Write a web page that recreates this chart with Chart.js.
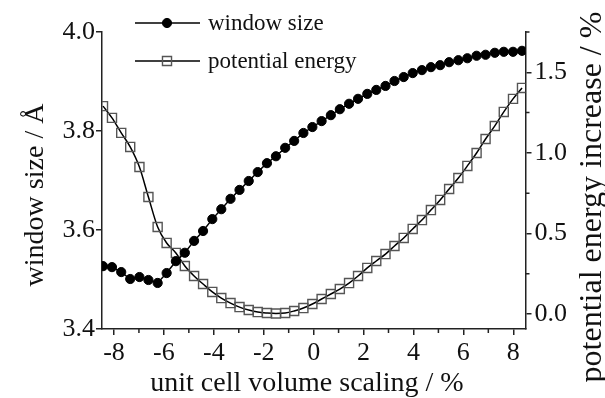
<!DOCTYPE html>
<html>
<head>
<meta charset="utf-8">
<script src="https://cdn.jsdelivr.net/npm/chart.js@4.4.0/dist/chart.umd.min.js"></script>
<style>
  html, body { margin: 0; padding: 0; background: #fff; }
</style>
</head>
<body>
<canvas id="chart" width="605" height="398"></canvas>
<script>
// unit cell volume scaling / %
var volumeScaling = [-8.44, -8.08, -7.71, -7.35, -6.98, -6.62, -6.25, -5.89, -5.52, -5.16,
  -4.79, -4.43, -4.06, -3.70, -3.33, -2.97, -2.60, -2.24, -1.87, -1.51,
  -1.14, -0.78, -0.41, -0.05, 0.32, 0.69, 1.05, 1.42, 1.78, 2.15,
  2.51, 2.88, 3.24, 3.61, 3.97, 4.34, 4.70, 5.07, 5.43, 5.80,
  6.16, 6.53, 6.89, 7.26, 7.62, 7.99, 8.35];

// window size / Å (left axis)
var windowSize = [3.527, 3.525, 3.515, 3.501, 3.505, 3.499, 3.493, 3.513, 3.537, 3.554,
  3.578, 3.598, 3.622, 3.642, 3.663, 3.681, 3.699, 3.717, 3.735, 3.749,
  3.766, 3.780, 3.796, 3.808, 3.820, 3.832, 3.844, 3.855, 3.865, 3.875,
  3.883, 3.891, 3.901, 3.909, 3.917, 3.923, 3.929, 3.933, 3.939, 3.943,
  3.947, 3.952, 3.954, 3.958, 3.960, 3.960, 3.962];

// potential energy increase / % (right axis)
var potentialEnergy = [1.29, 1.217, 1.124, 1.037, 0.912, 0.726, 0.54, 0.441, 0.379, 0.298,
  0.236, 0.186, 0.137, 0.099, 0.068, 0.043, 0.025, 0.012, 0.006, 0.003,
  0.006, 0.019, 0.037, 0.062, 0.093, 0.124, 0.155, 0.192, 0.236, 0.286,
  0.329, 0.372, 0.422, 0.472, 0.528, 0.583, 0.645, 0.708, 0.776, 0.844,
  0.919, 0.999, 1.086, 1.167, 1.254, 1.335, 1.403];

var xMinorTicks = [-7, -5, -3, -1, 1, 3, 5, 7];
var energyMinorTicks = [0.25, 0.75, 1.25, 1.75];

var seriesNames = ['window size', 'potential energy'];
var xTitle = 'unit cell volume scaling / %';
var yLeftTitle = 'window size / Å';
var yRightTitle = 'potential energy increase / %';

var fontFamily = '"Liberation Serif", "Times New Roman", serif';
var axisColor = '#222';
var textColor = '#111';
var squareColor = '#555';

function toPoints(xs, ys) {
    return xs.map(function (x, i) { return { x: x, y: ys[i] }; });
}

function drawText(ctx, text, size, x, y, angle) {
    ctx.save();
    ctx.fillStyle = textColor;
    ctx.font = size + 'px ' + fontFamily;
    ctx.textAlign = 'center';
    ctx.textBaseline = 'alphabetic';
    ctx.translate(x, y);
    ctx.rotate(angle);
    ctx.fillText(text, 0, 0);
    ctx.restore();
}

var extras = {
    id: 'extras',
    afterDraw: function (chart) {
        var ctx = chart.ctx;
        var area = chart.chartArea;
        var xs = chart.scales.x;
        var ye = chart.scales.yEnergy;

        // minor ticks
        ctx.save();
        ctx.strokeStyle = axisColor;
        ctx.lineWidth = 1.5;
        ctx.beginPath();
        xMinorTicks.forEach(function (v) {
            var px = xs.getPixelForValue(v);
            ctx.moveTo(px, area.bottom);
            ctx.lineTo(px, area.bottom + 4);
        });
        energyMinorTicks.forEach(function (v) {
            var py = ye.getPixelForValue(v);
            ctx.moveTo(area.right, py);
            ctx.lineTo(area.right + 4, py);
        });
        ctx.stroke();
        ctx.restore();

        // axis titles
        drawText(ctx, xTitle, 28, 307, 391, 0);
        drawText(ctx, yLeftTitle, 28, 43, 195, -Math.PI / 2);
        drawText(ctx, yRightTitle, 32, 601, 197, -Math.PI / 2);

        // legend
        ctx.save();
        [23, 61].forEach(function (y, i) {
            var ds = chart.data.datasets[i];
            ctx.strokeStyle = ds.borderColor;
            ctx.lineWidth = ds.borderWidth;
            ctx.beginPath();
            ctx.moveTo(135, y);
            ctx.lineTo(200, y);
            ctx.stroke();
            ctx.strokeStyle = ds.pointBorderColor;
            ctx.fillStyle = ds.pointBackgroundColor;
            ctx.lineWidth = ds.pointBorderWidth;
            Chart.helpers.drawPoint(ctx, {
                pointStyle: ds.pointStyle,
                radius: ds.pointRadius,
                borderWidth: ds.pointBorderWidth
            }, 167, y);
            ctx.fillStyle = textColor;
            ctx.font = '23px ' + fontFamily;
            ctx.textAlign = 'left';
            ctx.textBaseline = 'middle';
            ctx.fillText(seriesNames[i], 208, y + 1);
        });
        ctx.restore();
    }
};

new Chart(document.getElementById('chart'), {
    type: 'line',
    data: {
        datasets: [{
            label: seriesNames[0],
            data: toPoints(volumeScaling, windowSize),
            yAxisID: 'y',
            borderColor: '#000',
            borderWidth: 1.5,
            pointStyle: 'circle',
            pointRadius: 4.6,
            pointBackgroundColor: '#000',
            pointBorderColor: '#000',
            pointBorderWidth: 1,
            tension: 0
        }, {
            label: seriesNames[1],
            data: toPoints(volumeScaling, potentialEnergy),
            yAxisID: 'yEnergy',
            borderColor: '#000',
            borderWidth: 1.5,
            pointStyle: 'rect',
            pointRadius: 6.4,
            pointBackgroundColor: 'rgba(0,0,0,0)',
            pointBorderColor: squareColor,
            pointBorderWidth: 1.4,
            cubicInterpolationMode: 'monotone'
        }]
    },
    options: {
        responsive: false,
        animation: false,
        devicePixelRatio: 1,
        layout: { padding: { top: 32, left: 0, right: 0, bottom: 0 } },
        plugins: { legend: { display: false }, tooltip: { enabled: false } },
        scales: {
            x: {
                type: 'linear',
                min: -8.48,
                max: 8.49,
                afterFit: function (scale) { scale.height = 69; },
                border: { display: true, color: axisColor, width: 1.5 },
                grid: { drawOnChartArea: false, drawTicks: true, tickLength: 6, color: axisColor, lineWidth: 1.5 },
                ticks: {
                    stepSize: 2,
                    includeBounds: false,
                    padding: 3,
                    color: textColor,
                    font: { family: fontFamily, size: 26 },
                    maxRotation: 0,
                    callback: function (v) { return String(v); }
                }
            },
            y: {
                position: 'left',
                min: 3.4,
                max: 4.0,
                afterFit: function (scale) { scale.width = 102; },
                border: { display: true, color: axisColor, width: 1.5 },
                grid: { drawOnChartArea: false, drawTicks: true, tickLength: 6, color: axisColor, lineWidth: 1.5 },
                ticks: {
                    stepSize: 0.2,
                    padding: 1,
                    color: textColor,
                    font: { family: fontFamily, size: 26 },
                    callback: function (v) { return v.toFixed(1); }
                }
            },
            yEnergy: {
                position: 'right',
                min: -0.093,
                max: 1.75,
                afterFit: function (scale) { scale.width = 79.5; },
                border: { display: true, color: axisColor, width: 1.5 },
                grid: { drawOnChartArea: false, drawTicks: true, tickLength: 6, color: axisColor, lineWidth: 1.5 },
                ticks: {
                    stepSize: 0.5,
                    includeBounds: false,
                    padding: 3,
                    color: textColor,
                    font: { family: fontFamily, size: 26 },
                    callback: function (v) { return v.toFixed(1); }
                }
            }
        }
    },
    plugins: [extras]
});
</script>
</body>
</html>
